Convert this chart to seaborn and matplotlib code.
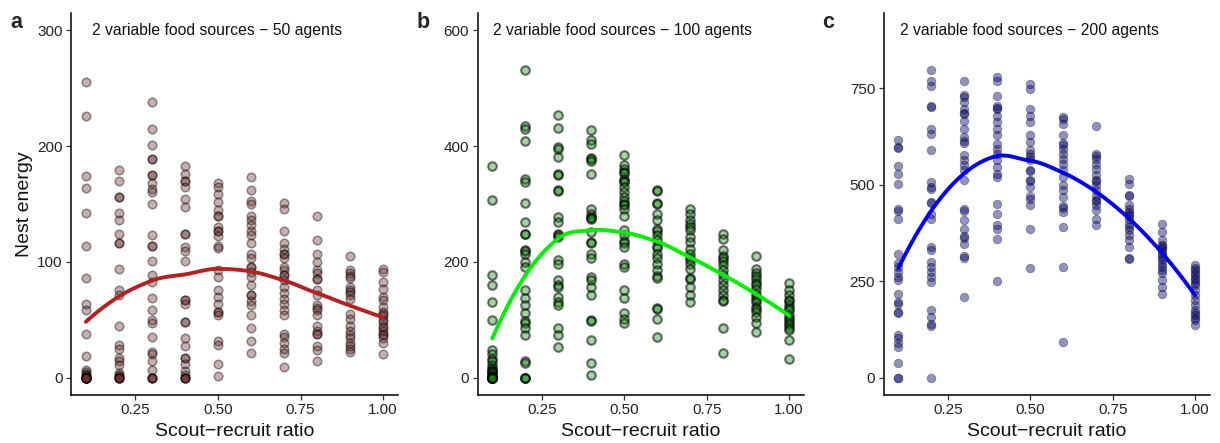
import numpy as np
import pandas as pd
import matplotlib
matplotlib.use("Agg")
import matplotlib.pyplot as plt
import seaborn as sns

# Scout-recruit ratios tested in every scenario
ratios = [0.1, 0.2, 0.3, 0.4, 0.5, 0.6, 0.7, 0.8, 0.9, 1.0]

# Nest energy per replicate, one list per ratio (50 agents)
energy_50 = [
    [255, 226, 174, 164, 142, 114, 86, 64, 58, 38, 19, 7, 5, 3, 2, 1, 0, 0, 0, 0, 0, 0, 0, 0,
     0, 0, 0, 0],
    [179, 170, 156, 156, 142, 136, 124, 116, 116, 94, 76, 71, 45, 28, 25, 17, 14, 11, 4, 2, 1,
     0, 0, 0, 0, 0],
    [238, 215, 201, 189, 189, 175, 175, 168, 163, 160, 150, 123, 114, 114, 101, 89, 83, 69, 58,
     50, 47, 35, 22, 20, 14, 7, 0, 0, 0, 0],
    [183, 176, 170, 170, 165, 154, 147, 124, 124, 113, 109, 101, 67, 67, 64, 48, 48, 34, 27, 17,
     17, 12, 6, 2, 0, 0, 0, 0],
    [168, 165, 159, 152, 145, 140, 140, 130, 127, 127, 122, 114, 112, 93, 87, 76, 70, 64, 57, 57,
     54, 32, 28, 12, 1],
    [173, 162, 153, 150, 140, 136, 132, 127, 123, 116, 107, 103, 96, 96, 91, 87, 80, 71, 71, 66,
     63, 54, 43, 32, 21],
    [151, 146, 127, 116, 111, 107, 107, 103, 96, 93, 89, 89, 84, 78, 73, 68, 64, 58, 54, 38, 35,
     30, 25, 21, 9],
    [140, 119, 107, 100, 93, 90, 85, 85, 76, 71, 63, 60, 58, 54, 45, 40, 38, 38, 27, 24, 14],
    [105, 93, 90, 88, 86, 78, 76, 74, 71, 68, 55, 51, 45, 40, 37, 34, 30, 27, 25, 22],
    [94, 91, 83, 77, 70, 67, 61, 57, 55, 53, 50, 48, 45, 43, 40, 38, 37, 34, 30, 20],
]

# Nest energy per replicate (100 agents)
energy_100 = [
    [366, 307, 177, 160, 131, 99, 48, 40, 33, 28, 22, 16, 14, 12, 10, 8, 4, 2, 1, 0, 0, 0, 0,
     0, 0, 0],
    [532, 434, 430, 409, 343, 338, 301, 269, 249, 249, 220, 218, 214, 200, 191, 151, 137, 125,
     111, 97, 95, 85, 74, 28, 26, 0, 0, 0],
    [453, 431, 398, 395, 381, 352, 350, 324, 322, 278, 269, 249, 246, 243, 203, 197, 168, 160,
     157, 140, 131, 125, 85, 74, 53],
    [428, 410, 404, 380, 378, 375, 352, 292, 283, 278, 276, 274, 252, 234, 232, 214, 206, 174,
     168, 157, 143, 99, 97, 65, 25, 5],
    [384, 367, 361, 355, 353, 343, 340, 338, 329, 321, 312, 305, 300, 298, 292, 280, 255, 246,
     236, 232, 226, 197, 191, 151, 137, 111, 102, 94],
    [325, 322, 302, 300, 283, 272, 257, 253, 246, 237, 227, 224, 214, 206, 197, 186, 176, 173,
     121, 119, 102, 71],
    [292, 283, 272, 265, 261, 255, 243, 234, 223, 214, 207, 204, 197, 188, 172, 170, 157, 143, 131],
    [249, 240, 220, 211, 206, 202, 194, 186, 177, 168, 160, 151, 143, 135, 133, 85, 42],
    [211, 188, 180, 175, 171, 163, 160, 154, 145, 140, 135, 131, 122, 118, 114, 105, 94, 79],
    [163, 151, 143, 135, 132, 125, 120, 117, 108, 103, 99, 94, 91, 86, 82, 65, 33],
]

# Nest energy per replicate (200 agents)
energy_200 = [
    [616, 597, 595, 548, 528, 503, 438, 433, 412, 320, 296, 287, 274, 261, 253, 218, 197, 192,
     171, 168, 110, 102, 89, 80, 37, 0, 0],
    [796, 770, 757, 705, 702, 645, 632, 589, 507, 494, 490, 455, 452, 425, 412, 339, 330, 300,
     287, 274, 261, 248, 175, 158, 138, 134, 0],
    [768, 733, 728, 714, 697, 686, 682, 666, 645, 623, 612, 608, 576, 563, 550, 537, 511, 436,
     432, 408, 386, 367, 363, 347, 315, 311, 209],
    [778, 770, 731, 705, 699, 695, 679, 662, 645, 628, 606, 593, 580, 563, 546, 528, 520, 451,
     425, 395, 386, 360, 251],
    [761, 748, 697, 679, 662, 628, 610, 589, 580, 572, 563, 539, 535, 513, 509, 494, 472, 464,
     447, 384, 285],
    [675, 670, 658, 628, 608, 604, 593, 580, 567, 554, 537, 520, 498, 485, 468, 444, 440, 429,
     390, 287, 93],
    [651, 580, 575, 567, 554, 541, 524, 513, 509, 498, 485, 472, 461, 457, 447, 434, 412, 395],
    [515, 503, 474, 470, 447, 438, 430, 425, 418, 412, 399, 390, 382, 369, 356, 339, 311, 307],
    [397, 378, 356, 345, 341, 335, 330, 322, 317, 310, 304, 295, 287, 278, 270, 253, 235, 218],
    [291, 283, 278, 270, 265, 258, 253, 246, 240, 227, 214, 201, 188, 175, 168, 162, 155, 149, 136],
]

panel_titles = ["2 variable food sources \u2212 50 agents",
                "2 variable food sources \u2212 100 agents",
                "2 variable food sources \u2212 200 agents"]
panel_letters = ["a", "b", "c"]
y_ticks = [[0, 100, 200, 300], [0, 200, 400, 600], [0, 250, 500, 750]]
y_limits = [(-15, 315), (-30, 630), (-45, 945)]
x_ticks = [0.25, 0.50, 0.75, 1.00]
x_ticklabels = ["0.25", "0.50", "0.75", "1.00"]


def long_frame(values):
    rows = [(r, v) for r, col in zip(ratios, values) for v in col]
    return pd.DataFrame(rows, columns=["ratio", "energy"])


def local_fit(x, y, x0, span):
    """Tricube-weighted local quadratic at x0: returns value and slope."""
    n = len(x)
    q = int(np.floor(n * span))
    d = np.abs(x - x0)
    h = max(np.sort(d)[q - 1], 1e-9) * 1.0001
    w = np.clip(1 - (d / h) ** 3, 0, None) ** 3
    X = np.column_stack([np.ones(n), x - x0, (x - x0) ** 2])
    sw = np.sqrt(w)
    beta, *_ = np.linalg.lstsq(X * sw[:, None], y * sw, rcond=None)
    return beta[0], beta[1]


def loess(x, y, grid, span=0.75):
    """Loess surface: exact fits at vertices, cubic Hermite in between."""
    x = np.asarray(x, float)
    y = np.asarray(y, float)
    verts = np.unique(x)
    vals, slopes = zip(*[local_fit(x, y, v, span) for v in verts])
    vals, slopes = np.array(vals), np.array(slopes)
    out = np.empty(len(grid))
    for k, g in enumerate(grid):
        j = min(np.searchsorted(verts, g, side="right") - 1, len(verts) - 2)
        j = max(j, 0)
        h = verts[j + 1] - verts[j]
        t = (g - verts[j]) / h
        h00 = 2 * t**3 - 3 * t**2 + 1
        h10 = t**3 - 2 * t**2 + t
        h01 = -2 * t**3 + 3 * t**2
        h11 = t**3 - t**2
        out[k] = (h00 * vals[j] + h10 * h * slopes[j]
                  + h01 * vals[j + 1] + h11 * h * slopes[j + 1])
    return out


sns.set_theme(style="ticks")
plt.rcParams["font.family"] = ["Liberation Sans", "DejaVu Sans"]

fig = plt.figure(figsize=(12.2, 4.43), dpi=100)
axes_px = [(71, 398), (477.5, 804), (883.5, 1210)]
top_px, bottom_px = 13, 395
W, H = 1220, 443

datasets = [energy_50, energy_100, energy_200]
fills = [(0.42, 0.18, 0.18), (0.05, 0.55, 0.05), (0.05, 0.05, 0.45)]
fill_alpha = [0.38, 0.38, 0.45]
edge_alpha = [0.40, 0.55, 0.35]
edge_width = [1.1, 1.5, 0.6]
line_colors = ["#B22222", "#00EE00", "#0000EE"]
title_offsets = [0.065, 0.048, 0.052]

for i, (data, (l, r)) in enumerate(zip(datasets, axes_px)):
    ax = fig.add_axes([l / W, (H - bottom_px) / H, (r - l) / W, (bottom_px - top_px) / H])
    df = long_frame(data)
    sns.scatterplot(data=df, x="ratio", y="energy", ax=ax,
                    color=(*fills[i], fill_alpha[i]),
                    edgecolor=(0, 0, 0, edge_alpha[i]),
                    linewidth=edge_width[i], s=38, zorder=2)
    grid = np.linspace(0.1, 1.0, 91)
    fit = loess(df["ratio"], df["energy"], grid)
    sns.lineplot(x=grid, y=fit, ax=ax, color=line_colors[i], linewidth=2.8, zorder=3)

    ax.set_xlim(0.055, 1.045)
    ax.set_ylim(*y_limits[i])
    ax.set_xticks(x_ticks)
    ax.set_xticklabels(x_ticklabels)
    ax.set_yticks(y_ticks[i])
    ax.tick_params(axis="both", labelsize=11, length=3.5, width=0.9,
                   color="#333333", labelcolor="#222222", pad=2.5)
    for side in ("left", "bottom"):
        ax.spines[side].set_linewidth(1.1)
        ax.spines[side].set_color("black")
    sns.despine(ax=ax)
    ax.set_xlabel("Scout\u2212recruit ratio", fontsize=14, labelpad=4, color="#111111")
    if i == 0:
        ax.set_ylabel("Nest energy", fontsize=14, labelpad=3, color="#111111")
    else:
        ax.set_ylabel("")
    ax.text(title_offsets[i], 0.955, panel_titles[i], transform=ax.transAxes,
            fontsize=11.3, ha="left", va="center", color="#111111")
    fig.text((l - 61) / W, 1 - 22 / H, panel_letters[i], fontsize=15.5,
             fontweight="bold", ha="left", va="center")

fig.savefig("out.png", dpi=100, facecolor="white")
